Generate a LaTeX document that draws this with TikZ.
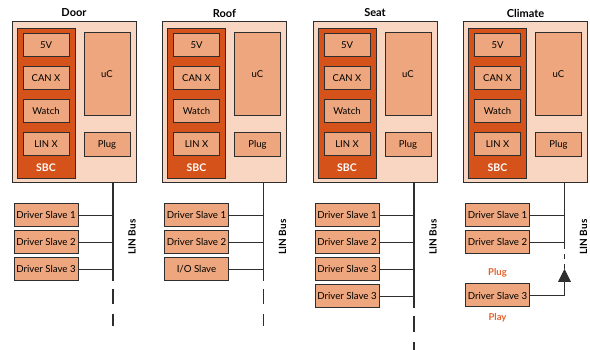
\documentclass[tikz,border=0pt]{standalone}
\usepackage{fontspec}
\setmainfont{Lato}
\usetikzlibrary{arrows.meta}
\definecolor{panelfill}{HTML}{F9D6C2}
\definecolor{sbcfill}{HTML}{D6521B}
\definecolor{boxfill}{HTML}{EDA67D}
\definecolor{edge}{HTML}{2E2E2E}
\definecolor{plugcol}{HTML}{E5612A}
\tikzset{
  panel/.style={draw=edge, line width=1pt, fill=panelfill, inner sep=0pt, minimum width=124pt, minimum height=161pt},
  sbcbox/.style={draw=edge, line width=0.8pt, fill=sbcfill, inner sep=0pt, minimum width=58pt, minimum height=150pt},
  unit/.style={draw=edge, line width=1pt, fill=boxfill, inner sep=0pt, minimum width=46pt, minimum height=23pt, font=\fontsize{9.5}{11}\selectfont},
  slave/.style={draw=edge, line width=1pt, fill=boxfill, inner sep=0pt, minimum width=64pt, minimum height=23pt, font=\fontsize{9.7}{11}\selectfont},
  title/.style={font=\bfseries\fontsize{11}{13}\selectfont, inner sep=0pt},
  sbclabel/.style={font=\bfseries\fontsize{10.5}{12}\selectfont, text=white, inner sep=0pt},
  buslabel/.style={font=\bfseries\fontsize{10}{12}\selectfont, rotate=90, inner sep=0pt},
  orangelabel/.style={font=\bfseries\fontsize{9.5}{11}\selectfont, text=plugcol, inner sep=0pt},
  bus/.style={draw=edge, line width=1.1pt},
  wire/.style={draw=edge, line width=0.9pt},
}
\newcommand\ecupanel[3]{%
  \begin{scope}[xshift=#3pt]
    \node[title] (#1-title) at (62,13) {#2};
    \node[panel] (#1) at (62,102.5) {};
    \node[sbcbox] (#1-sbc) at (34,103) {};
    \node[sbclabel] (#1-sbclbl) at (34,168) {SBC};
    \node[unit] (#1-5v) at (34,45.5) {5V};
    \node[unit] (#1-can) at (34,78.5) {CAN X};
    \node[unit] (#1-watch) at (34,111) {Watch};
    \node[unit] (#1-lin) at (34,144.5) {LIN X};
    \node[unit, minimum height=83pt] (#1-uc) at (95,74.5) {uC};
    \node[unit, minimum height=24pt] (#1-plug) at (95,145) {Plug};
    \coordinate (#1-bus) at (101,183);
    \node[buslabel] (#1-buslbl) at (120,237) {LIN Bus};
    \node[slave] (#1-s1) at (34,215) {Driver Slave 1};
    \node[slave] (#1-s2) at (34,242) {Driver Slave 2};
    \draw[wire] (#1-s1.east) -- (#1-s1.east -| #1-bus);
    \draw[wire] (#1-s2.east) -- (#1-s2.east -| #1-bus);
  \end{scope}}
\begin{document}
\begin{tikzpicture}[x=1pt,y=-1pt]
  \useasboundingbox (0,0) rectangle (590,350);
  \ecupanel{door}{Door}{12}
  \ecupanel{roof}{Roof}{162.5}
  \ecupanel{seat}{Seat}{313}
  \ecupanel{clim}{Climate}{463.5}

  % Door
  \node[slave] (door-s3) at (46,269) {Driver Slave 3};
  \draw[wire] (door-s3.east) -- (door-s3.east -| door-bus);
  \coordinate (door-b1) at (113,281);
  \coordinate (door-b2) at (113,289);
  \coordinate (door-b3) at (113,326);
  \draw[bus] (door-bus) -- (door-b1);
  \draw[bus, dash pattern=on 15pt off 10pt] (door-b2) -- (door-b3);

  % Roof
  \node[slave] (roof-s3) at (196.5,269) {I/O Slave};
  \draw[wire] (roof-s3.east) -- (roof-s3.east -| roof-bus);
  \coordinate (roof-b1) at (263.5,281);
  \coordinate (roof-b2) at (263.5,289);
  \coordinate (roof-b3) at (263.5,326);
  \draw[bus] (roof-bus) -- (roof-b1);
  \draw[bus, dash pattern=on 15pt off 10pt] (roof-b2) -- (roof-b3);

  % Seat
  \node[slave] (seat-s3) at (347,269) {Driver Slave 3};
  \node[slave] (seat-s4) at (347,296) {Driver Slave 3};
  \draw[wire] (seat-s3.east) -- (seat-s3.east -| seat-bus);
  \draw[wire] (seat-s4.east) -- (seat-s4.east -| seat-bus);
  \coordinate (seat-b1) at (414,308);
  \coordinate (seat-b2) at (414,316);
  \coordinate (seat-b3) at (414,350);
  \draw[bus] (seat-bus) -- (seat-b1);
  \draw[bus, dash pattern=on 16pt off 10pt] (seat-b2) -- (seat-b3);

  % Climate
  \node[slave] (clim-s3) at (497.5,295.5) {Driver Slave 3};
  \node[orangelabel] (clim-plug-lbl) at (497.5,273) {Plug};
  \node[orangelabel] (clim-play-lbl) at (497.5,318) {Play};
  \coordinate (clim-b1) at (564.5,244);
  \coordinate (clim-tip) at (564.5,269);
  \draw[bus] (clim-bus) -- (clim-b1);
  \draw[bus, dash pattern=on 5pt off 5pt] (clim-b1) -- (clim-tip);
  \draw[wire, -{Triangle[width=13pt,length=13pt]}] (clim-s3.east) -- (clim-s3.east -| clim-bus) -- (clim-tip);
\end{tikzpicture}
\end{document}
